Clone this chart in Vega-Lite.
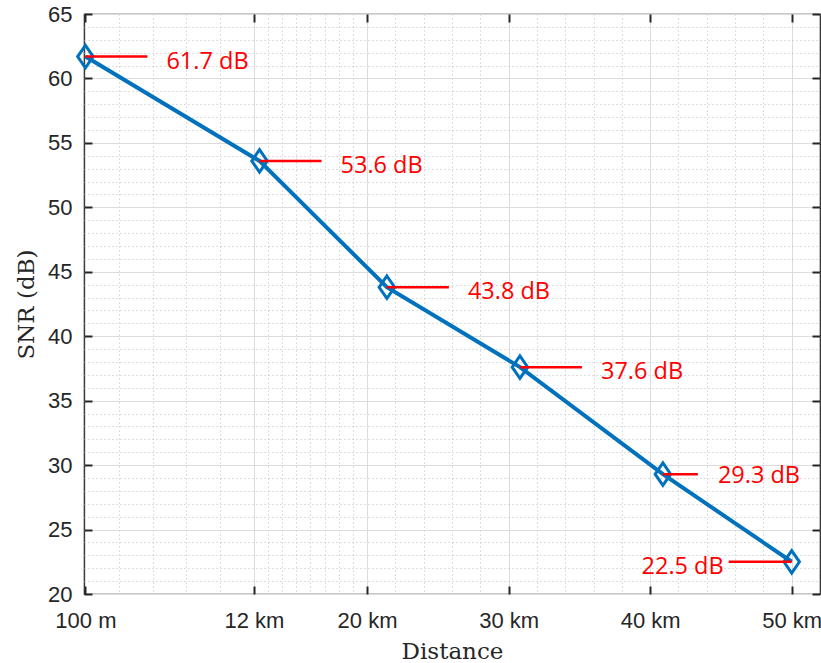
{
  "$schema": "https://vega.github.io/schema/vega-lite/v6.json",
  "width": 736,
  "height": 580,
  "autosize": {"type": "none"},
  "padding": {"left": 84, "top": 14, "right": 1, "bottom": 69},
  "background": "white",
  "config": {
    "view": {"stroke": "#262626", "strokeWidth": 1.2},
    "axis": {"labelFont": "Liberation Sans", "labelFontSize": 22, "labelColor": "#262626", "titleColor": "#262626"}
  },
  "data": {
    "values": [
      {"distance": 0.1, "snr": 61.7, "label": "61.7 dB"},
      {"distance": 12.4, "snr": 53.6, "label": "53.6 dB"},
      {"distance": 21.4, "snr": 43.8, "label": "43.8 dB"},
      {"distance": 30.8, "snr": 37.6, "label": "37.6 dB"},
      {"distance": 40.9, "snr": 29.3, "label": "29.3 dB"},
      {"distance": 50, "snr": 22.5, "label": "22.5 dB"}
    ]
  },
  "resolve": {"axis": {"x": "independent", "y": "independent"}},
  "layer": [
    {
      "mark": {"type": "line", "color": "#0072BD", "strokeWidth": 4},
      "encoding": {
        "x": {"field": "distance", "type": "quantitative", "scale": {"domain": [0, 52], "nice": false, "zero": false},
          "axis": {"orient": "bottom", "values": [2.48, 4.86, 7.24, 9.62, 13, 14, 15, 16, 17, 18, 19, 22, 24, 26, 28, 32, 34, 36, 38, 42, 44, 46, 48], "grid": true, "gridDash": [1, 3], "gridColor": "#bdbdbd", "gridWidth": 1, "labels": false, "ticks": false, "domain": false, "title": null}},
        "y": {"field": "snr", "type": "quantitative", "scale": {"domain": [20, 65], "nice": false, "zero": false},
          "axis": {"orient": "left", "values": [21,22,23,24,26,27,28,29,31,32,33,34,36,37,38,39,41,42,43,44,46,47,48,49,51,52,53,54,56,57,58,59,61,62,63,64], "grid": true, "gridDash": [1, 3], "gridColor": "#bdbdbd", "gridWidth": 1, "labels": false, "ticks": false, "domain": false, "title": null}}
      }
    },
    {
      "mark": {"type": "point", "shape": "M0,-1.45L1,0L0,1.45L-1,0Z", "filled": false, "stroke": "#0072BD", "strokeWidth": 3, "size": 240, "opacity": 1},
      "encoding": {
        "x": {"field": "distance", "type": "quantitative",
          "axis": {"orient": "bottom", "values": [0.1, 12, 20, 30, 40, 50], "labelExpr": "datum.value < 1 ? '100 m' : datum.value + ' km'", "grid": true, "gridColor": "#dcdcdc", "gridWidth": 1, "ticks": true, "tickSize": -8, "tickWidth": 2, "tickColor": "#262626", "domain": false, "labelPadding": 24, "title": "Distance", "titleFont": "DejaVu Serif", "titleFontSize": 23, "titleFontWeight": "normal", "titlePadding": 9}},
        "y": {"field": "snr", "type": "quantitative",
          "axis": {"orient": "left", "values": [20, 25, 30, 35, 40, 45, 50, 55, 60, 65], "grid": true, "gridColor": "#dcdcdc", "gridWidth": 1, "ticks": true, "tickSize": -8, "tickWidth": 2, "tickColor": "#262626", "domain": false, "labelPadding": 20, "title": "SNR (dB)", "titleFont": "DejaVu Serif", "titleFontSize": 23, "titleFontWeight": "normal", "titlePadding": 9}}
      }
    },
    {
      "transform": [{"filter": "datum.distance < 40"}],
      "mark": {"type": "rule", "color": "#ff0000", "strokeWidth": 2.5, "x2Offset": 62},
      "encoding": {
        "x": {"field": "distance", "type": "quantitative",
          "axis": {"orient": "top", "values": [0.1, 12, 20, 30, 40, 50], "labels": false, "grid": false, "ticks": true, "tickSize": -8, "tickWidth": 2, "tickColor": "#262626", "domain": false, "title": null}},
        "x2": {"field": "distance"},
        "y": {"field": "snr", "type": "quantitative",
          "axis": {"orient": "right", "values": [20, 25, 30, 35, 40, 45, 50, 55, 60, 65], "labels": false, "grid": false, "ticks": true, "tickSize": -8, "tickWidth": 2, "tickColor": "#262626", "domain": false, "title": null}}
      }
    },
    {
      "transform": [{"filter": "datum.distance > 40 && datum.distance < 45"}],
      "mark": {"type": "rule", "color": "#ff0000", "strokeWidth": 2.5, "x2Offset": 35},
      "encoding": {
        "x": {"field": "distance", "type": "quantitative", "axis": null},
        "x2": {"field": "distance"},
        "y": {"field": "snr", "type": "quantitative", "axis": null}
      }
    },
    {
      "transform": [{"filter": "datum.distance >= 50"}],
      "mark": {"type": "rule", "color": "#ff0000", "strokeWidth": 2.5, "xOffset": -63},
      "encoding": {
        "x": {"field": "distance", "type": "quantitative", "axis": null},
        "x2": {"field": "distance"},
        "y": {"field": "snr", "type": "quantitative", "axis": null}
      }
    },
    {
      "transform": [{"filter": "datum.distance < 40"}],
      "mark": {"type": "text", "color": "#ff0000", "font": "Open Sans", "fontSize": 23.5, "align": "left", "baseline": "middle", "dx": 81, "dy": 5},
      "encoding": {
        "x": {"field": "distance", "type": "quantitative", "axis": null},
        "y": {"field": "snr", "type": "quantitative", "axis": null},
        "text": {"field": "label"}
      }
    },
    {
      "transform": [{"filter": "datum.distance > 40 && datum.distance < 45"}],
      "mark": {"type": "text", "color": "#ff0000", "font": "Open Sans", "fontSize": 23.5, "align": "left", "baseline": "middle", "dx": 55, "dy": 2},
      "encoding": {
        "x": {"field": "distance", "type": "quantitative", "axis": null},
        "y": {"field": "snr", "type": "quantitative", "axis": null},
        "text": {"field": "label"}
      }
    },
    {
      "transform": [{"filter": "datum.distance >= 50"}],
      "mark": {"type": "text", "color": "#ff0000", "font": "Open Sans", "fontSize": 23.5, "align": "right", "baseline": "middle", "dx": -68, "dy": 5},
      "encoding": {
        "x": {"field": "distance", "type": "quantitative", "axis": null},
        "y": {"field": "snr", "type": "quantitative", "axis": null},
        "text": {"field": "label"}
      }
    }
  ]
}
